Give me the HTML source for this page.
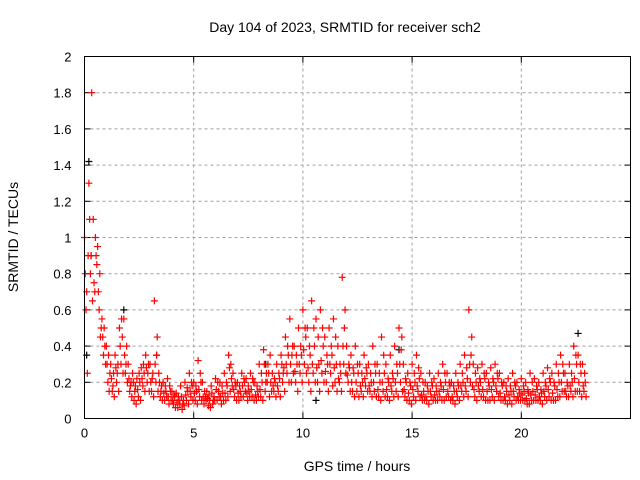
<!DOCTYPE html>
<html><head><meta charset="utf-8"><style>
html,body{margin:0;padding:0;background:#fff;}
svg{display:block;font-family:"Liberation Sans",sans-serif;}
</style></head><body>
<svg id="chart" width="640" height="480" viewBox="0 0 640 480" xmlns="http://www.w3.org/2000/svg">
<rect width="640" height="480" fill="#fff"/>
<text x="345" y="32" font-size="14" text-anchor="middle">Day 104 of 2023, SRMTID for receiver sch2</text>
<text x="18" y="237" font-size="14" text-anchor="middle" transform="rotate(-90 18 237)">SRMTID / TECUs</text>
<text x="357" y="471" font-size="14" text-anchor="middle">GPS time / hours</text>
<g id="grid"></g>
<g id="ticks"></g>
<g id="blackPts"></g>
<g id="redPts"></g>
<rect x="84.5" y="56.5" width="546" height="362" fill="none" stroke="#000" stroke-width="1"/>
</svg>
<script>
const xTicks=[0,5,10,15,20,25];
const xTickLabels=["0","5","10","15","20",""];
const yTicks=[0,0.2,0.4,0.6,0.8,1,1.2,1.4,1.6,1.8,2];
const yTickLabels=["0","0.2","0.4","0.6","0.8","1","1.2","1.4","1.6","1.8","2"];
const stepHours=0.2;
const redA=[1.0,1.3,1.1,0.95,0.55,0.4,0.3,0.35,0.5,0.55,0.3,0.25,0.22,0.28,0.35,0.3,0.65,0.25,0.2,0.22,0.15,0.14,0.18,0.2,0.25,0.2,0.32,0.2,0.15,0.18,0.22,0.2,0.25,0.35,0.25,0.2,0.25,0.22,0.25,0.2,0.3,0.38,0.3,0.25,0.3,0.35,0.45,0.55,0.4,0.5,0.6,0.5,0.65,0.55,0.6,0.45,0.5,0.55,0.4,0.78,0.4,0.35,0.4,0.3,0.35,0.3,0.4,0.3,0.45,0.3,0.35,0.4,0.5,0.3,0.25,0.3,0.35,0.25,0.2,0.25,0.22,0.25,0.3,0.25,0.2,0.25,0.3,0.35,0.6,0.3,0.28,0.3,0.25,0.28,0.3,0.25,0.2,0.22,0.25,0.2,0.22,0.2,0.25,0.22,0.2,0.25,0.28,0.25,0.3,0.35,0.25,0.3,0.4,0.35,0.3];
const redB=[0.6,0.8,0.7,0.6,0.35,0.2,0.15,0.2,0.3,0.25,0.15,0.1,0.12,0.18,0.2,0.15,0.2,0.12,0.1,0.08,0.08,0.06,0.05,0.1,0.12,0.1,0.12,0.08,0.07,0.08,0.1,0.08,0.1,0.15,0.12,0.1,0.12,0.1,0.12,0.1,0.12,0.15,0.12,0.15,0.15,0.2,0.25,0.2,0.2,0.25,0.3,0.2,0.25,0.2,0.25,0.2,0.25,0.2,0.2,0.3,0.2,0.15,0.15,0.15,0.18,0.15,0.15,0.12,0.15,0.12,0.15,0.15,0.2,0.12,0.1,0.12,0.15,0.1,0.1,0.12,0.1,0.12,0.1,0.12,0.1,0.12,0.15,0.15,0.2,0.12,0.15,0.12,0.1,0.12,0.15,0.1,0.1,0.1,0.12,0.1,0.1,0.08,0.1,0.1,0.1,0.12,0.12,0.1,0.12,0.15,0.12,0.15,0.15,0.15,0.15];
const redC=[0.25,1.8,0.9,0.45,0.4,0.15,0.25,0.3,0.45,0.4,0.2,0.18,0.2,0.25,0.3,0.25,0.45,0.18,0.15,0.15,0.12,0.1,0.1,0.15,0.18,0.15,0.2,0.12,0.1,0.12,0.15,0.14,0.18,0.22,0.18,0.15,0.2,0.15,0.2,0.15,0.2,0.25,0.2,0.2,0.22,0.28,0.35,0.4,0.3,0.35,0.45,0.35,0.4,0.3,0.4,0.3,0.35,0.3,0.25,0.6,0.28,0.25,0.25,0.2,0.25,0.2,0.25,0.2,0.25,0.2,0.22,0.25,0.45,0.2,0.18,0.2,0.22,0.15,0.15,0.18,0.15,0.18,0.2,0.18,0.15,0.18,0.2,0.22,0.45,0.2,0.2,0.22,0.18,0.2,0.22,0.18,0.15,0.15,0.18,0.14,0.15,0.14,0.15,0.16,0.14,0.18,0.2,0.18,0.2,0.25,0.18,0.2,0.3,0.25,0.2];
const redD=[0.8,1.1,0.75,0.7,0.45,0.3,0.22,0.28,0.4,0.35,0.22,0.2,0.16,0.22,0.28,0.2,0.3,0.2,0.14,0.12,0.1,0.09,0.12,0.13,0.15,0.14,0.16,0.12,0.11,0.14,0.16,0.12,0.14,0.28,0.16,0.14,0.18,0.14,0.16,0.13,0.16,0.3,0.25,0.18,0.18,0.3,0.3,0.3,0.26,0.3,0.38,0.28,0.3,0.28,0.32,0.26,0.3,0.28,0.22,0.4,0.24,0.2,0.2,0.18,0.22,0.18,0.2,0.16,0.2,0.16,0.18,0.2,0.3,0.16,0.14,0.16,0.18,0.13,0.12,0.15,0.13,0.15,0.16,0.15,0.12,0.15,0.18,0.18,0.3,0.16,0.18,0.16,0.15,0.16,0.18,0.14,0.12,0.13,0.15,0.12,0.13,0.11,0.13,0.13,0.12,0.15,0.16,0.14,0.16,0.2,0.15,0.18,0.22,0.2,0.18];
const redE=[0.7,0.9,1.0,0.8,0.5,0.35,0.18,0.25,0.55,0.3,0.18,0.15,0.25,0.3,0.25,0.22,0.35,0.15,0.18,0.18,0.13,0.12,0.08,0.17,0.2,0.18,0.25,0.15,0.13,0.1,0.2,0.18,0.2,0.3,0.2,0.18,0.22,0.18,0.22,0.18,0.25,0.2,0.35,0.22,0.25,0.25,0.4,0.35,0.35,0.4,0.5,0.4,0.5,0.45,0.5,0.35,0.4,0.45,0.3,0.5,0.3,0.28,0.3,0.25,0.28,0.25,0.3,0.25,0.35,0.22,0.25,0.3,0.38,0.22,0.2,0.25,0.28,0.2,0.18,0.2,0.18,0.2,0.25,0.2,0.18,0.2,0.25,0.28,0.35,0.25,0.22,0.25,0.2,0.22,0.25,0.2,0.18,0.18,0.2,0.16,0.18,0.16,0.2,0.18,0.16,0.2,0.22,0.2,0.25,0.3,0.2,0.25,0.35,0.3,0.25];
const redF=[0.9,0.65,0.85,0.5,0.3,0.25,0.12,0.15,0.25,0.2,0.12,0.08,0.1,0.15,0.15,0.12,0.15,0.1,0.12,0.1,0.06,0.08,0.07,0.08,0.1,0.08,0.1,0.1,0.06,0.1,0.12,0.1,0.12,0.18,0.1,0.12,0.15,0.12,0.1,0.12,0.1,0.2,0.15,0.12,0.12,0.15,0.2,0.25,0.15,0.2,0.25,0.15,0.2,0.15,0.2,0.15,0.18,0.15,0.15,0.25,0.15,0.12,0.12,0.12,0.15,0.12,0.12,0.1,0.12,0.1,0.12,0.12,0.15,0.1,0.08,0.1,0.12,0.1,0.08,0.1,0.1,0.1,0.12,0.1,0.08,0.1,0.12,0.12,0.18,0.1,0.12,0.1,0.1,0.1,0.12,0.1,0.08,0.08,0.1,0.1,0.1,0.08,0.1,0.1,0.08,0.1,0.1,0.1,0.12,0.15,0.12,0.12,0.15,0.12,0.12];
const blackTimes=[0.2,0.3,1.8,3.3,14.4,22.6,10.6,8.3,0.1];
const blackVals=[1.42,0.9,0.6,0.35,0.38,0.47,0.1,0.3,0.35];

const X0=84.5,X1=630.5,Y0=418.5,Y1=56.5;
function xs(h){return X0+(h/25)*(X1-X0);}
function ys(v){return Y0-(v/2)*(Y0-Y1);}
const NS="http://www.w3.org/2000/svg";
function mk(tag,attrs,parent){const e=document.createElementNS(NS,tag);for(const k in attrs)e.setAttribute(k,attrs[k]);parent.appendChild(e);return e;}
const grid=document.getElementById('grid'),ticks=document.getElementById('ticks');
xTicks.forEach((t,i)=>{
  const x=xs(t);
  if(i>0&&i<xTicks.length-1){const l=mk('line',{x1:x,x2:x,y1:Y1,y2:Y0,stroke:'#a0a0a0','stroke-dasharray':'3,3'},grid);
  
  }
  mk('line',{x1:x,x2:x,y1:Y0,y2:Y0-6,stroke:'#000'},ticks);
  mk('line',{x1:x,x2:x,y1:Y1,y2:Y1+6,stroke:'#000'},ticks);
  const tx=mk('text',{x:x,y:Y0+19,'font-size':13,'text-anchor':'middle'},ticks);
  tx.textContent=xTickLabels[i];
  
  
});
yTicks.forEach((v,i)=>{
  const y=ys(v);
  if(i>0&&i<yTicks.length-1){const l=mk('line',{x1:X0,x2:X1,y1:y,y2:y,stroke:'#a0a0a0','stroke-dasharray':'3,3'},grid);
  
  }
  mk('line',{x1:X0,x2:X0+6,y1:y,y2:y,stroke:'#000'},ticks);
  mk('line',{x1:X1,x2:X1-6,y1:y,y2:y,stroke:'#000'},ticks);
  const tx=mk('text',{x:X0-13,y:y+5,'font-size':13,'text-anchor':'end'},ticks);
  tx.textContent=yTickLabels[i];
  
  
});
function cross(g,h,v,color){
  const x=xs(h),y=ys(v);
  const p=mk('path',{d:`M${x-3.5},${y}H${x+3.5}M${x},${y-3.5}V${y+3.5}`,stroke:color,'stroke-width':1.2,fill:'none'},g);
  
  
}
const bg=document.getElementById('blackPts'),rg=document.getElementById('redPts');
blackTimes.forEach((t,i)=>cross(bg,t,blackVals[i],'#000'));
[[redA,0],[redD,0.035],[redB,0.07],[redE,0.1],[redC,0.13],[redF,0.165]].forEach(([arr,off])=>{
  arr.forEach((v,i)=>cross(rg,i*stepHours+off,v,'#f00'));
});
</script>
</body></html>
